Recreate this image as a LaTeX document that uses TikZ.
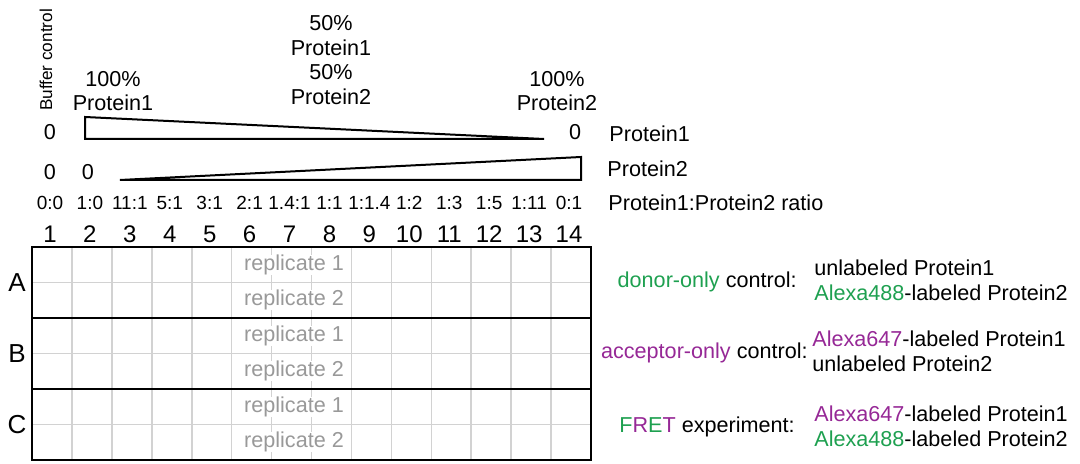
\documentclass[tikz,border=0pt]{standalone}
\usepackage{fontspec}
\setmainfont{Liberation Sans}
\usepackage{tikz}
\definecolor{donor}{RGB}{30,160,80}
\definecolor{acceptor}{RGB}{150,40,150}

\begin{document}
\begin{tikzpicture}[x=0.5pt,y=-0.5pt]
	\tikzstyle{lbl}=[inner sep=0pt,font=\fontsize{10.8}{12.4}\selectfont]
	\tikzstyle{num}=[inner sep=0pt,font=\fontsize{12}{13}\selectfont]
	\tikzstyle{ratio}=[inner sep=0pt,font=\fontsize{9.5}{10}\selectfont]
	\tikzstyle{wedge}=[draw,line width=1pt,line join=miter]
	\tikzstyle{well}=[draw=gray!35,line width=0.8pt]
	\tikzstyle{plate}=[draw,line width=1.3pt]
	\tikzstyle{rep}=[lbl,fill=white,text=gray!80,inner xsep=1pt]
	\useasboundingbox (0,0) rectangle (1080,464);
	% header
	\node (buffer) at (46,60) [lbl,rotate=90,font=\fontsize{8.6}{10}\selectfont] {Buffer control};
	\node (pure1)  at (113,91) [lbl,align=center] {100\%\\Protein1};
	\node (mix)    at (331,60) [lbl,align=center] {50\%\\Protein1\\50\%\\Protein2};
	\node (pure2)  at (557,91) [lbl,align=center] {100\%\\Protein2};
	\node (zeroA)  at (50,132) [lbl] {0};
	\node (zeroB)  at (575,132) [lbl] {0};
	\node (zeroC)  at (50,172) [lbl] {0};
	\node (zeroD)  at (88,172) [lbl] {0};
	\node (prot1)  at (609,134) [lbl,anchor=west] {Protein1};
	\node (prot2)  at (607,169) [lbl,anchor=west] {Protein2};
	\node (ratio)  at (608,203) [lbl,anchor=west] {Protein1:Protein2 ratio};
	% wedges
	\path [wedge] (85,117) -- (85,139) -- (544,139) -- cycle;
	\path [wedge] (120,180) -- (581,180) -- (581,157) -- cycle;
	% ratios and column numbers
	\foreach \r [count=\i] in {0:0,1:0,11:1,5:1,3:1,2:1,1.4:1,1:1,1:1.4,1:2,1:3,1:5,1:11,0:1}
		\node (ratio\i) at ({30+39.93*(\i-0.5)},203) [ratio] {\r};
	\foreach \i in {1,...,14}
		\node (col\i) at ({30+39.93*(\i-0.5)},234) [num] {\i};
	% plate
	\coordinate (nw) at (32,247);
	\coordinate (se) at (591,460);
	\foreach \i in {1,...,13}
		\draw [well] ({32+39.93*\i},247) -- ({32+39.93*\i},460);
	\foreach \j in {1,3,5}
		\draw [well] (32,{247+35.5*\j}) -- (591,{247+35.5*\j});
	\draw [plate] (32,318) -- (591,318);
	\draw [plate] (32,389) -- (591,389);
	\draw [plate] (nw) rectangle (se);
	\foreach \j/\k in {0/1,1/2,2/1,3/2,4/1,5/2}
		\node (rep\j) at (294,{247+35.5*(\j+0.5)}) [rep] {replicate \k};
	\node (rowA) at (17,283) [num,font=\fontsize{13}{14}\selectfont] {A};
	\node (rowB) at (17,354) [num,font=\fontsize{13}{14}\selectfont] {B};
	\node (rowC) at (17,425) [num,font=\fontsize{13}{14}\selectfont] {C};
	% conditions
	\node (condA) at (797,282) [lbl,anchor=east] {\textcolor{donor}{donor-only} control:};
	\node (condB) at (808,353) [lbl,anchor=east] {\textcolor{acceptor}{acceptor-only} control:};
	\node (condC) at (795,427) [lbl,anchor=east] {\textcolor{donor}{F}\textcolor{acceptor}{R}\textcolor{donor}{E}\textcolor{acceptor}{T} experiment:};
	\node (mixA) at (814,280) [lbl,anchor=west,align=left] {unlabeled Protein1\\\textcolor{donor}{Alexa488}-labeled Protein2};
	\node (mixB) at (812,351) [lbl,anchor=west,align=left] {\textcolor{acceptor}{Alexa647}-labeled Protein1\\unlabeled Protein2};
	\node (mixC) at (814,426) [lbl,anchor=west,align=left] {\textcolor{acceptor}{Alexa647}-labeled Protein1\\\textcolor{donor}{Alexa488}-labeled Protein2};
\end{tikzpicture}
\end{document}
